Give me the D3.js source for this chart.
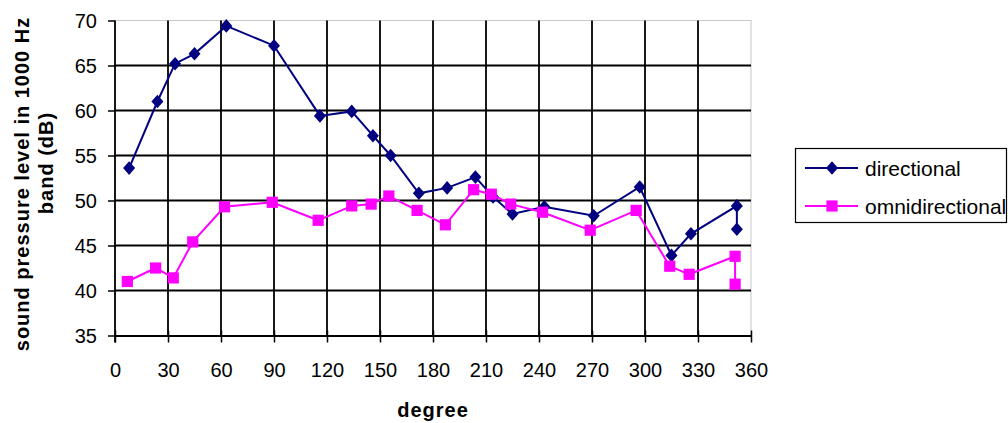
<!DOCTYPE html>
<html>
<head>
<meta charset="utf-8">
<script src="https://cdn.jsdelivr.net/npm/d3@7"></script>
<style>
  html, body { margin: 0; padding: 0; background: #fff; }
  svg { display: block; font-family: "Liberation Sans", Arial, sans-serif; }
</style>
</head>
<body>
<svg id="chart" width="1008" height="423"></svg>
<script>
// Measurement angles (degrees) and levels (dB) per loudspeaker type
const directionalDeg = [8, 24, 34, 45, 63, 90, 116, 134, 146, 156, 172, 188, 204, 214, 225, 243, 271, 297, 315, 326, 352, 352];
const directionalDb  = [53.6, 61.0, 65.2, 66.3, 69.4, 67.2, 59.4, 59.9, 57.2, 55.0, 50.8, 51.4, 52.6, 50.4, 48.5, 49.3, 48.3, 51.5, 43.9, 46.3, 49.4, 46.8];

const omniDeg = [7, 23, 33, 44, 62, 89, 115, 134, 145, 155, 171, 187, 203, 213, 224, 242, 269, 295, 314, 325, 351, 351];
const omniDb  = [41.0, 42.5, 41.4, 45.4, 49.3, 49.8, 47.8, 49.4, 49.6, 50.5, 48.9, 47.3, 51.2, 50.7, 49.6, 48.7, 46.7, 48.9, 42.7, 41.8, 43.8, 40.7];

const xTicks = [0, 30, 60, 90, 120, 150, 180, 210, 240, 270, 300, 330, 360];
const yTicks = [35, 40, 45, 50, 55, 60, 65, 70];

const seriesNames = ["directional", "omnidirectional"];
const seriesColors = ["#000080", "#FF00FF"];

const svg = d3.select("#chart");
const plot = { left: 115, right: 751, top: 20.5, bottom: 335.5 };

const x = d3.scaleLinear().domain([0, 360]).range([plot.left, plot.right]);
const y = d3.scaleLinear().domain([35, 70]).range([plot.bottom, plot.top]);

// Plot area border
svg.append("rect")
  .attr("x", plot.left).attr("y", plot.top)
  .attr("width", plot.right - plot.left).attr("height", plot.bottom - plot.top)
  .attr("fill", "#fff").attr("stroke", "#c8c8c8").attr("stroke-width", 1);

// Grid lines
const grid = svg.append("g").attr("stroke", "#000").attr("stroke-width", 1.8);
grid.selectAll("line.h").data(yTicks.filter(v => v > 35 && v < 70)).join("line")
  .attr("class", "h")
  .attr("x1", plot.left).attr("x2", plot.right)
  .attr("y1", d => y(d)).attr("y2", d => y(d));
grid.selectAll("line.v").data(xTicks.filter(v => v > 0 && v < 360)).join("line")
  .attr("class", "v")
  .attr("y1", plot.top).attr("y2", plot.bottom)
  .attr("x1", d => x(d)).attr("x2", d => x(d));

// X axis
const xAxis = svg.append("g")
  .attr("transform", `translate(0,${plot.bottom})`)
  .call(d3.axisBottom(x).tickValues(xTicks).tickSize(7).tickSizeOuter(0).tickPadding(0));
xAxis.select(".domain").attr("stroke", "#000").attr("stroke-width", 1.8);
xAxis.selectAll(".tick line").attr("y1", -5).attr("stroke", "#000").attr("stroke-width", 1.5);
xAxis.selectAll(".tick text")
  .attr("y", 41).attr("dy", null)
  .attr("font-size", 20).attr("fill", "#000")
  .attr("font-family", "'Liberation Sans', Arial, sans-serif");

// Y axis
const yAxis = svg.append("g")
  .attr("transform", `translate(${plot.left},0)`)
  .call(d3.axisLeft(y).tickValues(yTicks).tickSize(7).tickSizeOuter(0).tickPadding(11));
yAxis.select(".domain").attr("stroke", "#000").attr("stroke-width", 1.8)
  .attr("d", `M0,${plot.top}V${plot.bottom + 7}`);
yAxis.selectAll(".tick line").attr("stroke", "#000").attr("stroke-width", 1.5);
yAxis.selectAll(".tick text")
  .attr("font-size", 20).attr("fill", "#000").attr("dy", "0.36em")
  .attr("font-family", "'Liberation Sans', Arial, sans-serif");

// Axis titles
svg.append("text")
  .attr("x", (plot.left + plot.right) / 2).attr("y", 417)
  .attr("text-anchor", "middle").attr("font-size", 20).attr("font-weight", "bold")
  .attr("letter-spacing", 1)
  .text("degree");

svg.append("text")
  .attr("transform", "translate(29,184) rotate(-90)")
  .attr("text-anchor", "middle").attr("font-size", 20).attr("font-weight", "bold")
  .attr("letter-spacing", 1)
  .text("sound pressure level in 1000 Hz");
svg.append("text")
  .attr("transform", "translate(53,163) rotate(-90)")
  .attr("text-anchor", "middle").attr("font-size", 20).attr("font-weight", "bold")
  .attr("letter-spacing", 1)
  .text("band (dB)");

// Series
const series = [
  { name: seriesNames[0], color: seriesColors[0], deg: directionalDeg, db: directionalDb, shape: d3.symbolDiamond },
  { name: seriesNames[1], color: seriesColors[1], deg: omniDeg, db: omniDb, shape: d3.symbolSquare }
];

function marker(sel, s) {
  if (s.shape === d3.symbolDiamond) {
    sel.attr("d", "M0,-6.8L6,0L0,6.8L-6,0Z");
  } else {
    sel.attr("d", "M-5.6,-5.6H5.6V5.6H-5.6Z");
  }
  sel.attr("fill", s.color);
}

const line = d3.line().x(d => x(d[0])).y(d => y(d[1]));

series.forEach(s => {
  const pts = s.deg.map((d, i) => [d, s.db[i]]);
  const g = svg.append("g");
  g.append("path").datum(pts)
    .attr("d", line).attr("fill", "none")
    .attr("stroke", s.color).attr("stroke-width", 2);
  g.selectAll("path.m").data(pts).join("path")
    .attr("class", "m")
    .attr("transform", d => `translate(${x(d[0])},${y(d[1])})`)
    .call(marker, s);
});

// Legend
const legend = svg.append("g");
legend.append("rect")
  .attr("x", 795.5).attr("y", 148.5).attr("width", 211).attr("height", 74)
  .attr("fill", "#fff").attr("stroke", "#000").attr("stroke-width", 1.2);
series.forEach((s, i) => {
  const cy = 168 + i * 38;
  legend.append("line")
    .attr("x1", 805).attr("x2", 858).attr("y1", cy).attr("y2", cy)
    .attr("stroke", s.color).attr("stroke-width", 2);
  legend.append("path")
    .attr("transform", `translate(832,${cy})`)
    .call(marker, s);
  legend.append("text")
    .attr("x", 865).attr("y", cy + 7.5)
    .attr("font-size", 21).attr("fill", "#000")
    .text(s.name);
});
</script>
</body>
</html>
